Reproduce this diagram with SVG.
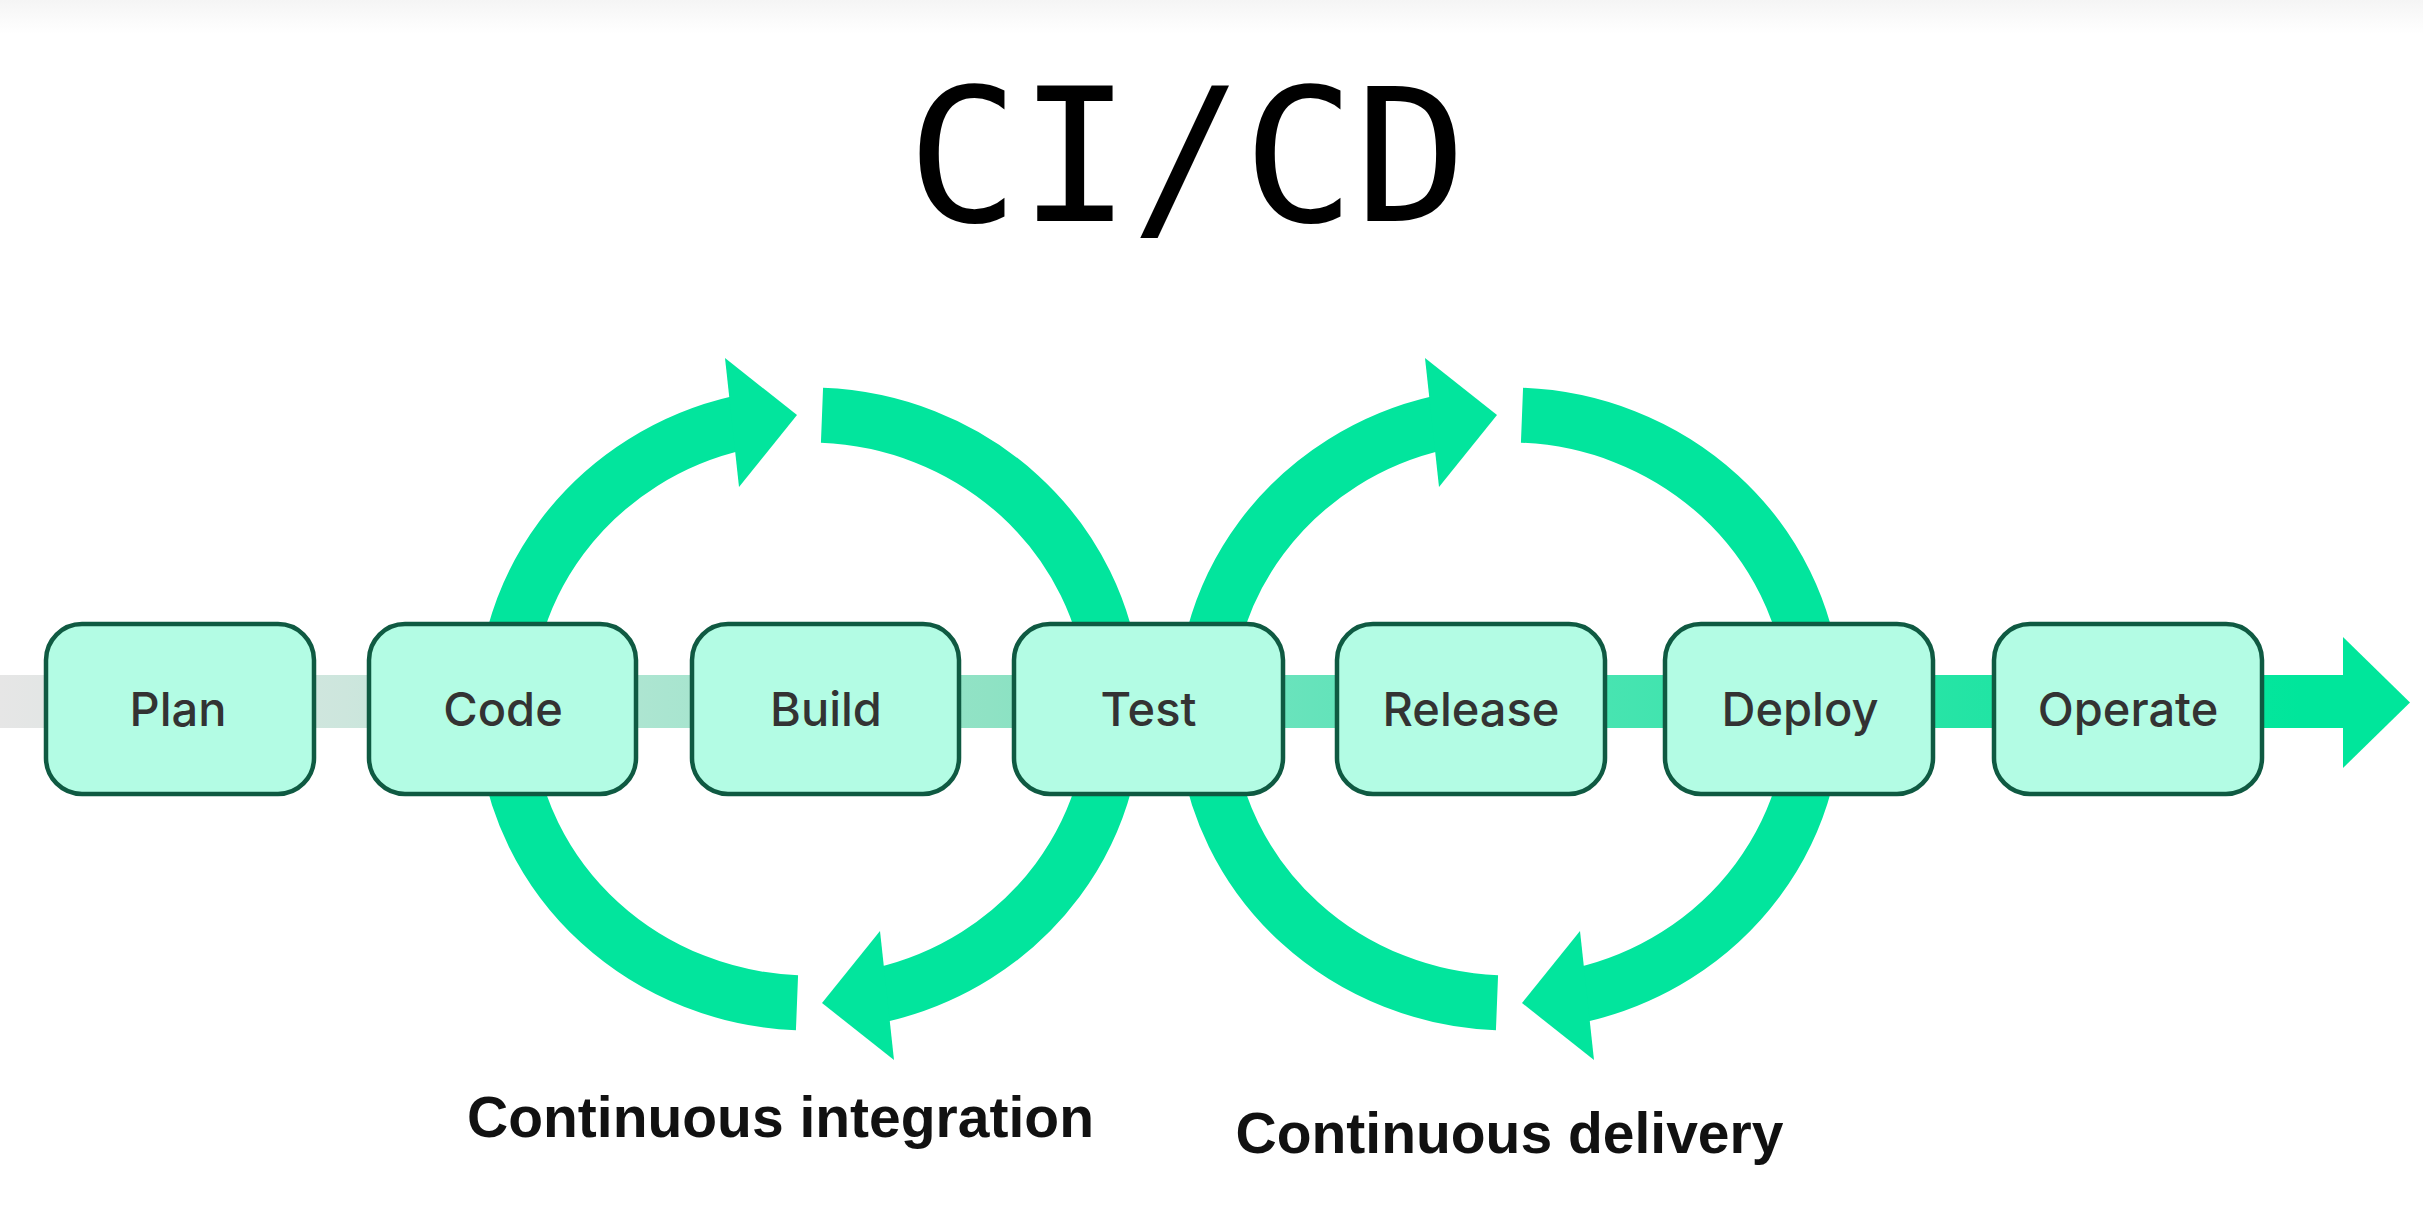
<svg xmlns="http://www.w3.org/2000/svg" width="2423" height="1215" viewBox="0 0 2423 1215">
  <defs>
    <linearGradient id="topfade" x1="0" y1="0" x2="0" y2="1">
      <stop offset="0" stop-color="#f5f5f5"/>
      <stop offset="1" stop-color="#ffffff"/>
    </linearGradient>
    <linearGradient id="track" gradientUnits="userSpaceOnUse" x1="0" y1="0" x2="2300" y2="0">
      <stop offset="0" stop-color="#e6e6e6"/>
      <stop offset="0.15" stop-color="#cde6dd"/>
      <stop offset="0.29" stop-color="#aae5d0"/>
      <stop offset="0.43" stop-color="#8fe2c4"/>
      <stop offset="0.57" stop-color="#66e3bb"/>
      <stop offset="0.71" stop-color="#45e4b0"/>
      <stop offset="0.85" stop-color="#25e4a5"/>
      <stop offset="1" stop-color="#00e69b"/>
    </linearGradient>
    <g id="loop">
      <path class="arc" d="M 797 1002.75 A 305 294 0 0 1 739.5 422.8"/>
      <path class="arc" d="M 822 415.25 A 305 294 0 0 1 879.5 995.2"/>
      <polygon class="head" points="725,358 797,415 739,487"/>
      <polygon class="head" points="894,1060 822,1003 880,931"/>
    </g>
  </defs>
  <style>
    .arc { fill: none; stroke: #02e59d; stroke-width: 55; stroke-linecap: butt; }
    .head { fill: #02e59d; }
    .box { fill: #b3fce4; stroke: #0f5a42; stroke-width: 4.5; }
    .lbl { font-family: Inter, "Liberation Sans", Arial, sans-serif; font-size: 47px; font-weight: 500; fill: #333333; text-anchor: middle; }
    .cap { font-family: "Liberation Sans", Arial, sans-serif; font-size: 57px; font-weight: bold; fill: #111111; text-anchor: middle; }
    .title { font-family: "DejaVu Sans Mono", "Liberation Mono", monospace; font-size: 186px; fill: #000000; text-anchor: middle; }
  </style>

  <rect x="0" y="0" width="2423" height="1215" fill="#ffffff"/>
  <rect x="0" y="0" width="2423" height="34" fill="url(#topfade)"/>

  <text class="title" x="1187" y="221">CI/CD</text>

  <g id="connectors">
    <rect x="0" y="675" width="2345" height="53" fill="url(#track)"/>
    <polygon points="2343,637 2410,702.5 2343,768" fill="#00e69b"/>
    <use href="#loop"/>
    <use href="#loop" transform="translate(700,0)"/>
  </g>

  <g id="node-plan">
    <rect class="box" x="46" y="624" width="268" height="170" rx="36"/>
    <text class="lbl" x="178" y="726">Plan</text>
  </g>
  <g id="node-code">
    <rect class="box" x="369" y="624" width="267" height="170" rx="36"/>
    <text class="lbl" x="503" y="726">Code</text>
  </g>
  <g id="node-build">
    <rect class="box" x="692" y="624" width="267" height="170" rx="36"/>
    <text class="lbl" x="826" y="726">Build</text>
  </g>
  <g id="node-test">
    <rect class="box" x="1014" y="624" width="269" height="170" rx="36"/>
    <text class="lbl" x="1148.5" y="726">Test</text>
  </g>
  <g id="node-release">
    <rect class="box" x="1337" y="624" width="268" height="170" rx="36"/>
    <text class="lbl" x="1471" y="726">Release</text>
  </g>
  <g id="node-deploy">
    <rect class="box" x="1665" y="624" width="268" height="170" rx="36"/>
    <text class="lbl" x="1800" y="726">Deploy</text>
  </g>
  <g id="node-operate">
    <rect class="box" x="1994" y="624" width="268" height="170" rx="36"/>
    <text class="lbl" x="2128" y="726">Operate</text>
  </g>

  <g id="labels">
    <text class="cap" x="780.5" y="1137">Continuous integration</text>
    <text class="cap" x="1509.5" y="1153">Continuous delivery</text>
  </g>
</svg>
